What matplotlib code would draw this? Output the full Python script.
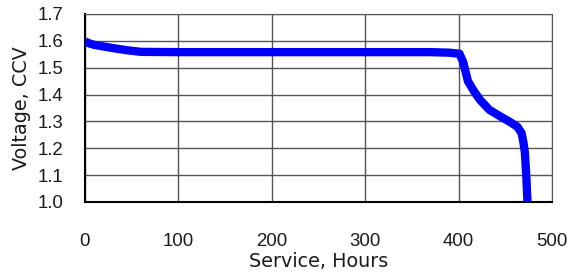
import matplotlib
matplotlib.use("Agg")
import matplotlib.pyplot as plt

hours = [0, 5, 10, 20, 30, 45, 60, 100, 200, 300, 370, 390, 401, 405, 410, 416, 423, 433, 445, 455, 463, 467.5, 469.5, 471, 472.5, 473.5, 474]
volts = [1.598, 1.590, 1.585, 1.579, 1.573, 1.565, 1.559, 1.558, 1.558, 1.558, 1.558, 1.556, 1.552, 1.52, 1.45, 1.415, 1.38, 1.343, 1.318, 1.298, 1.28, 1.256, 1.22, 1.183, 1.095, 1.02, 0.98]
xticks = [0, 100, 200, 300, 400, 500]
yticks = [1.0, 1.1, 1.2, 1.3, 1.4, 1.5, 1.6, 1.7]

plt.rcParams['font.family'] = ['Liberation Sans', 'DejaVu Sans']
fig = plt.figure(figsize=(5.7, 2.75), dpi=100)
ax = fig.add_axes([85/570, 1 - 202/275, (552-85)/570, (202-14)/275])
ax.plot(hours, volts, color='#0000ff', lw=6, solid_capstyle='butt', solid_joinstyle='round', zorder=3)
ax.set_xlim(0, 500)
ax.set_ylim(1.0, 1.7)
ax.set_xticks(xticks)
ax.set_yticks(yticks)
ax.set_yticklabels([f"{v:.1f}" for v in yticks])
ax.grid(True, color='#555555', lw=1)
ax.tick_params(length=0, labelsize=13.4, colors='#1a1a1a')
ax.tick_params(axis='x', pad=22.5)
ax.tick_params(axis='y', pad=15.6)
for s in ['top', 'right']:
    ax.spines[s].set_color('#555555')
for s in ['left', 'bottom']:
    ax.spines[s].set_color('black')
    ax.spines[s].set_linewidth(1.5)
ax.set_xlabel('Service, Hours', fontsize=13.8, color='#1a1a1a', labelpad=1,
              family=['DejaVu Sans'])
ax.set_ylabel('Voltage, CCV', fontsize=13.8, color='#1a1a1a', labelpad=4.6,
              family=['DejaVu Sans'])
fig.savefig('out.png', dpi=100)
